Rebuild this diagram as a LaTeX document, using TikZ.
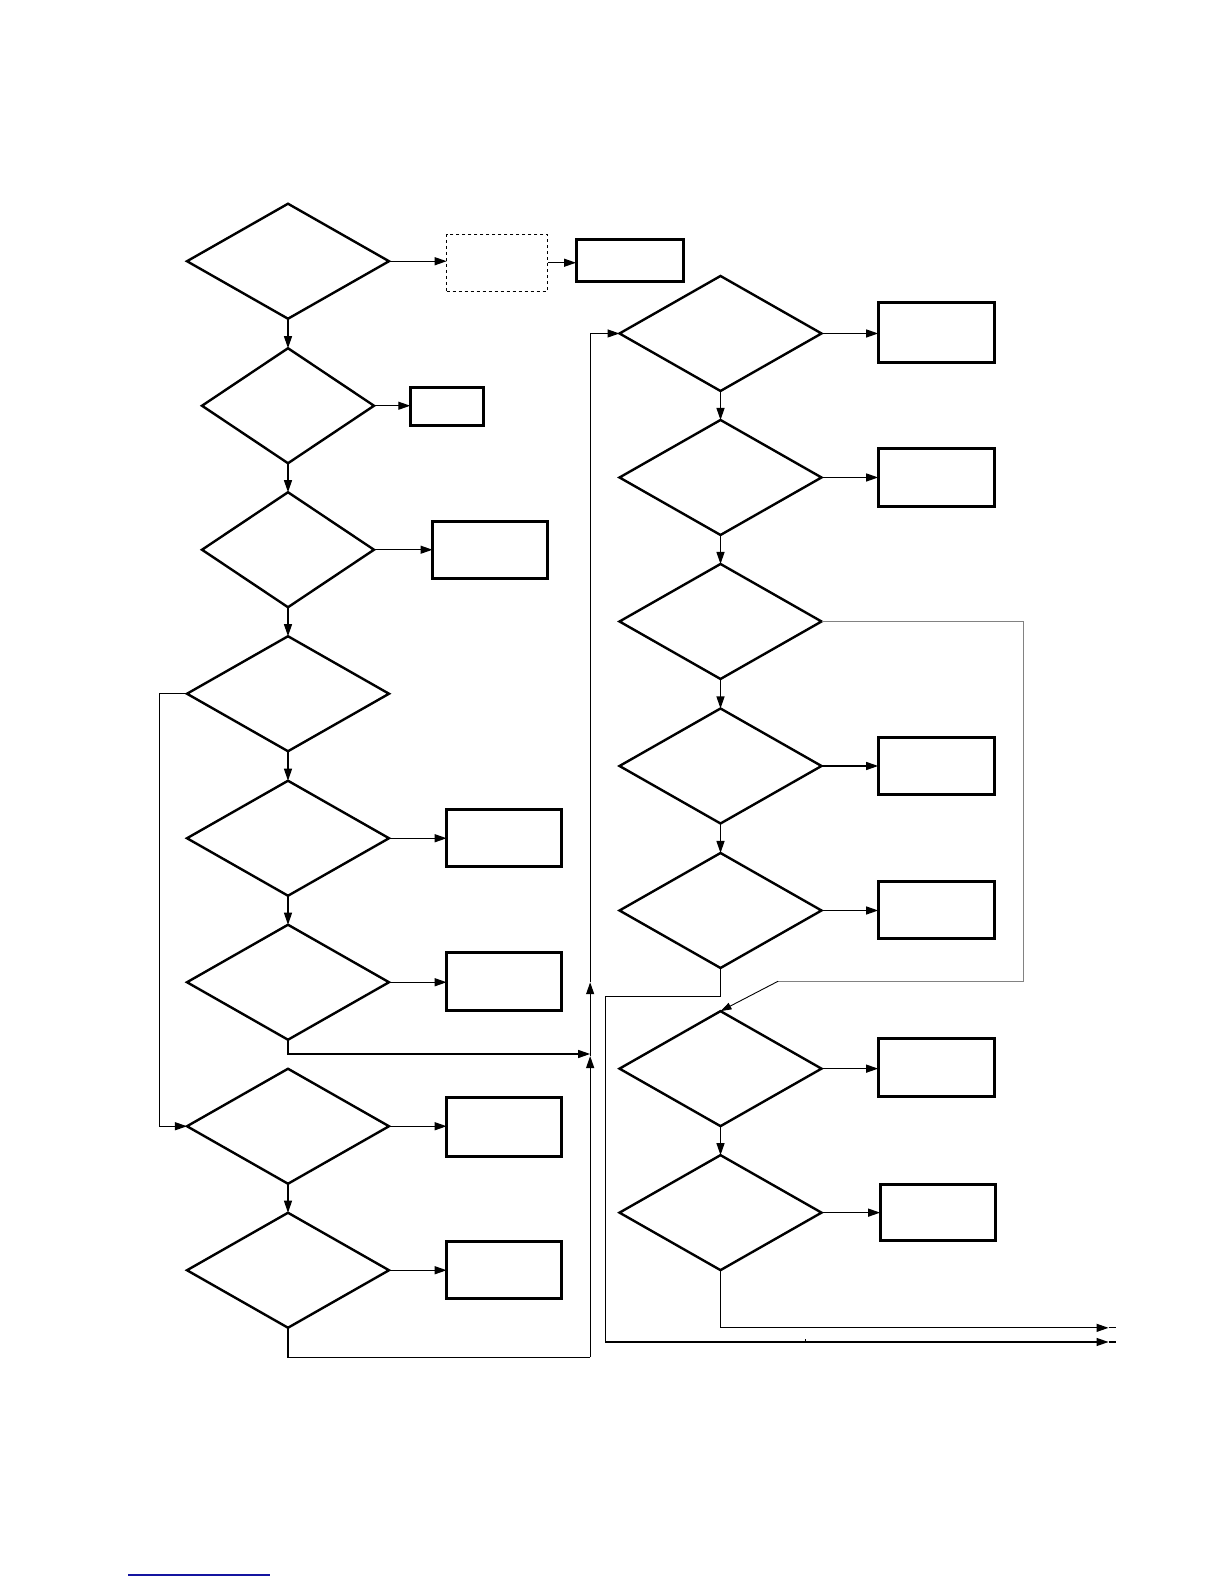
\documentclass[tikz,border=0pt]{standalone}
\usetikzlibrary{arrows.meta,shapes.geometric}
\definecolor{linkblue}{RGB}{20,20,160}
\definecolor{greyline}{RGB}{130,130,130}
\begin{document}
\begin{tikzpicture}[x=1.0105pt,y=-1.0105pt,
 dia/.style={diamond,draw,line width=2.4pt,inner sep=0pt,outer sep=0pt,minimum width=202pt,minimum height=115pt},
 ndia/.style={dia,minimum width=172pt},
 box/.style={draw,line width=3pt,inner sep=0pt,outer sep=0pt},
 dbox/.style={draw,dashed,line width=1pt,inner sep=0pt,outer sep=0pt},
 conn/.style={line width=1.2pt,-{Triangle[length=12pt,width=8pt]}},
 plain/.style={line width=1.2pt},
 ]
\useasboundingbox (0,0) rectangle (1211.3,1567.5);
% left column
\node[dia] (d1) at (285,258.5) {};
\node[ndia] (d2) at (285,401.5) {};
\node[ndia] (d3) at (285,544) {};
\node[dia] (d4) at (285,686.5) {};
\node[dia] (d5) at (285,829.5) {};
\node[dia] (d6) at (285,972) {};
\node[dia] (d7) at (285,1114.5) {};
\node[dia] (d8) at (285,1257) {};
% right column
\node[dia] (r1) at (713,330) {};
\node[dia] (r2) at (713,472.5) {};
\node[dia] (r3) at (713,615) {};
\node[dia] (r4) at (713,758) {};
\node[dia] (r5) at (713,901) {};
\node[dia] (r6) at (713,1057.5) {};
\node[dia] (r7) at (713,1200) {};
% boxes
\node[dbox,minimum width=101pt,minimum height=56.6pt] (bd) at (492,260) {};
\node[box,minimum width=107pt,minimum height=42.4pt] (b1) at (623,258) {};
\node[box,minimum width=72.8pt,minimum height=38.4pt] (b2) at (442,402) {};
\node[box,minimum width=115.2pt,minimum height=56.6pt] (b3) at (485,544) {};
\node[box,minimum width=115.2pt,minimum height=56.6pt] (b5) at (499,829) {};
\node[box,minimum width=115.2pt,minimum height=57.6pt] (b6) at (499,971.5) {};
\node[box,minimum width=115.2pt,minimum height=58.6pt] (b7) at (499,1115) {};
\node[box,minimum width=115.2pt,minimum height=56.6pt] (b8) at (499,1257) {};
\node[box,minimum width=116.2pt,minimum height=60.6pt] (rb1) at (926.5,329) {};
\node[box,minimum width=116.2pt,minimum height=57.6pt] (rb2) at (926.5,472.5) {};
\node[box,minimum width=116.2pt,minimum height=56.6pt] (rb4) at (926.5,758) {};
\node[box,minimum width=116.2pt,minimum height=57.6pt] (rb5) at (926.5,900.5) {};
\node[box,minimum width=116.2pt,minimum height=57.6pt] (rb6) at (926.5,1056.5) {};
\node[box,minimum width=115.2pt,minimum height=56.6pt] (rb7) at (928,1200) {};
% horizontal arrows to boxes
\draw[conn] (d1.east) -- (d1.east -| bd.west);
\draw[conn] (bd.east) -- (bd.east -| b1.west);
\draw[conn] (d2.east) -- (d2.east -| b2.west);
\draw[conn] (d3.east) -- (d3.east -| b3.west);
\draw[conn] (d5.east) -- (d5.east -| b5.west);
\draw[conn] (d6.east) -- (d6.east -| b6.west);
\draw[conn] (d7.east) -- (d7.east -| b7.west);
\draw[conn] (d8.east) -- (d8.east -| b8.west);
\draw[conn] (r1.east) -- (r1.east -| rb1.west);
\draw[conn] (r2.east) -- (r2.east -| rb2.west);
\draw[conn] (r4.east) -- (r4.east -| rb4.west);
\draw[conn] (r5.east) -- (r5.east -| rb5.west);
\draw[conn] (r6.east) -- (r6.east -| rb6.west);
\draw[conn] (r7.east) -- (r7.east -| rb7.west);
% vertical arrows
\draw[conn] (d1.south) -- (d2.north);
\draw[conn] (d2.south) -- (d3.north);
\draw[conn] (d3.south) -- (d4.north);
\draw[conn] (d4.south) -- (d5.north);
\draw[conn] (d5.south) -- (d6.north);
\draw[conn] (d7.south) -- (d8.north);
\draw[conn] (r1.south) -- (r2.north);
\draw[conn] (r2.south) -- (r3.north);
\draw[conn] (r3.south) -- (r4.north);
\draw[conn] (r4.south) -- (r5.north);
\draw[conn] (r6.south) -- (r7.north);
% left loop
\coordinate (lc) at (158,686.5);
\draw[conn] (d4.west) -- (lc) |- (d7.west);
% to right column
\coordinate (m6) at (584,1043);
\coordinate (j1) at (584,1343);
\coordinate (a1) at (584,1045);
\coordinate (a2) at (584,972);
\draw[conn] (d6.south) |- (m6);
\draw[plain] (d8.south) |- (j1);
\draw[conn] (j1) -- (a1);
\draw[conn] (a1) -- (a2);
\draw[conn] (a2) |- (r1.west);
% grey bypass from r3
\coordinate (g1) at (1013,615);
\coordinate (g2) at (1013,971);
\coordinate (g3) at (770,971);
\draw[greyline,line width=1pt] (r3.east) -- (g1) -- (g2) -- (g3);
\draw[line width=0.9pt,-{Triangle[length=11pt,width=7pt]}] (g3) -- (r6.north);
% exits
\coordinate (e1) at (1097,1314);
\coordinate (e1b) at (1104,1314);
\coordinate (k1) at (713,986);
\coordinate (k2) at (599,986);
\coordinate (e2) at (1097,1328);
\coordinate (e2b) at (1104,1328);
\draw[conn] (r7.south) |- (e1);
\draw[plain] (e1) -- (e1b);
\draw[conn] (r5.south) -- (k1) -- (k2) |- (e2);
\draw[plain] (e2) -- (e2b);
\draw[line width=0.8pt] (797,1328) -- (797,1325.5);
% link underline
\draw[linkblue,line width=1.5pt] (127,1558.5) -- (267,1558.5);
\end{tikzpicture}
\end{document}
